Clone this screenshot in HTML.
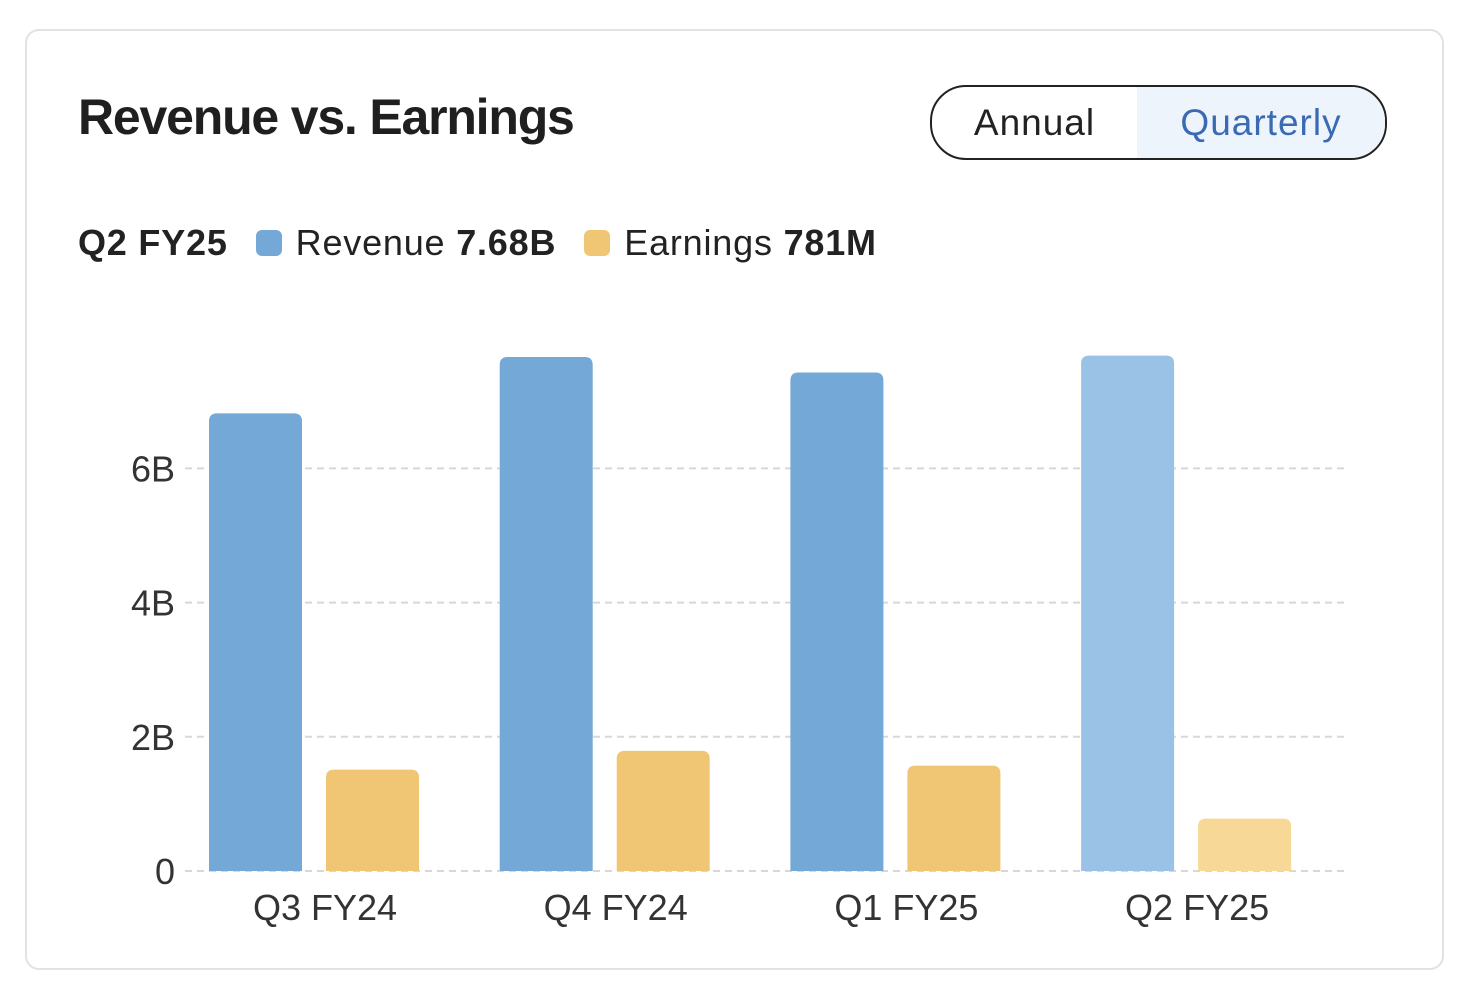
<!DOCTYPE html>
<html><head><meta charset="utf-8"><style>
body{margin:0;width:1472px;height:992px;background:#fff;font-family:"Liberation Sans",sans-serif;position:relative;overflow:hidden}
.card{position:absolute;left:25px;top:29px;width:1415px;height:937px;border:2px solid #e2e2e2;border-radius:14px}
.title{position:absolute;left:78px;top:88px;font-size:50px;font-weight:bold;color:#1f1f1f;letter-spacing:-1.2px}
.toggle{position:absolute;left:930px;top:85px;width:453px;height:71px;border:2px solid #222;border-radius:36px;overflow:hidden;display:flex}
.toggle div{display:flex;align-items:center;justify-content:center;font-size:37px;letter-spacing:1px}
.legend{position:absolute;left:78px;top:222px;font-size:36px;color:#222;display:flex;align-items:center;white-space:nowrap;letter-spacing:0.8px}
.sw{display:inline-block;width:26px;height:26px;border-radius:6px;margin:0 14px 0 28px}
</style></head><body>
<div class="card"></div>
<div class="title">Revenue vs. Earnings</div>
<div class="toggle">
 <div style="width:205px;color:#222">Annual</div>
 <div style="flex:1;background:#eef4fb;color:#3a6ab3">Quarterly</div>
</div>
<div class="legend">
 <b>Q2 FY25</b>
 <span class="sw" style="background:#74a8d6"></span>
 <span>Revenue&nbsp;<b>7.68B</b></span>
 <span class="sw" style="background:#f0c674"></span>
 <span>Earnings&nbsp;<b>781M</b></span>
</div>
<svg id="chart" width="1472" height="992" style="position:absolute;left:0;top:0"></svg>
<script>
const categories=["Q3 FY24","Q4 FY24","Q1 FY25","Q2 FY25"];
const revenue=[6.82,7.66,7.43,7.68];
const earnings=[1.51,1.79,1.57,0.781];
const ticks=[0,2,4,6];
const tickLabels=["0","2B","4B","6B"];
const NS="http://www.w3.org/2000/svg";
const svg=document.getElementById("chart");
const y=v=>871-v*67.1;
const gx=i=>209+i*290.7;
function mk(t,a){const e=document.createElementNS(NS,t);for(const k in a)e.setAttribute(k,a[k]);svg.appendChild(e);return e;}
ticks.forEach((t,i)=>{
 const l=mk("line",{x1:185,x2:1345,y1:y(t),y2:y(t),stroke:"#d8d8d8","stroke-width":2,"stroke-dasharray":"7 5"});
 
 
 const tx=mk("text",{x:175,y:y(t)+13,"text-anchor":"end","font-size":36,fill:"#333","font-family":"Liberation Sans"});
 tx.textContent=tickLabels[i];
 
 
});
function bar(x,v,c){
 const r=8;
 return mk("path",{d:`M${x},871 V${y(v)+r} Q${x},${y(v)} ${x+r},${y(v)} H${x+93-r} Q${x+93},${y(v)} ${x+93},${y(v)+r} V871 Z`,fill:c});
}
categories.forEach((c,i)=>{
 const last=i===categories.length-1;
 const b1=bar(gx(i),revenue[i],last?"#9ac2e6":"#74a8d6");
 
 
 const b2=bar(gx(i)+117,earnings[i],last?"#f7d896":"#f0c674");
 
 
 const t=mk("text",{x:gx(i)+116,y:920,"text-anchor":"middle","font-size":36,fill:"#333","font-family":"Liberation Sans"});
 t.textContent=c;
 
 
});
</script>
</body></html>
